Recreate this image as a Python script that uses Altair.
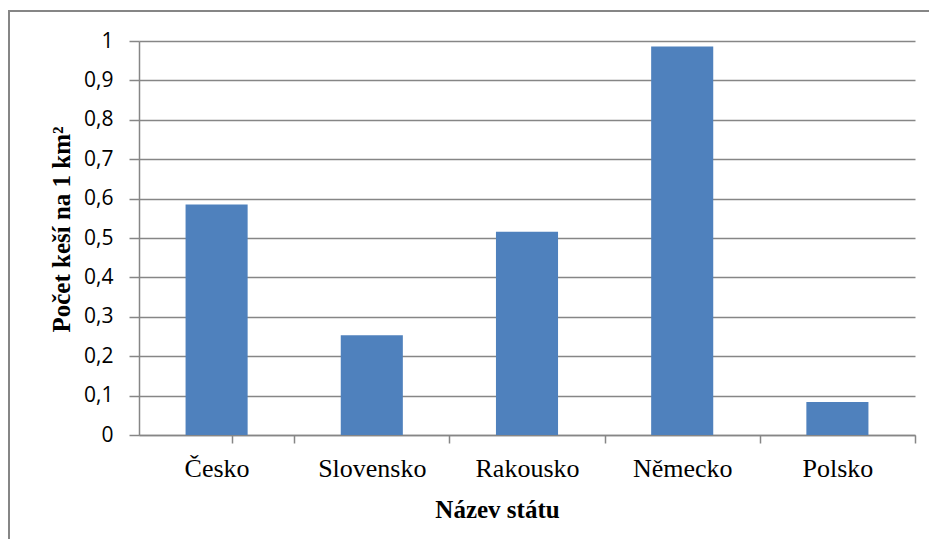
import altair as alt
import pandas as pd

# data
countries = ["Česko", "Slovensko", "Rakousko", "Německo", "Polsko"]
density = [0.585, 0.253, 0.516, 0.986, 0.084]
y_ticks = [0, 0.1, 0.2, 0.3, 0.4, 0.5, 0.6, 0.7, 0.8, 0.9, 1.0]

df = pd.DataFrame({"stat": countries, "hustota": density})
one = pd.DataFrame({"k": [0]})

GRAY = "#868686"
W, H = 776, 394
STEP = W / len(countries)

bars = alt.Chart(df).mark_bar(color="#4F81BD").encode(
    x=alt.X(
        "stat:N",
        sort=countries,
        scale=alt.Scale(paddingInner=0.6, paddingOuter=0.3),
        axis=alt.Axis(
            title="Název státu",
            labelAngle=0,
            labelFont="Liberation Serif",
            labelFontSize=26,
            labelColor="black",
            labelBaseline="alphabetic",
            labelPadding=33,
            tickSize=8,
            tickColor=GRAY,
            tickWidth=1.5,
            domainColor=GRAY,
            domainWidth=1.5,
            bandPosition=1,
            tickOffset=STEP * 0.3,
            labelOffset=-STEP * 0.3,
            tickExtra=True,
            titleFont="Liberation Serif",
            titleFontSize=25,
            titleFontWeight="bold",
            titleColor="black",
            titleX=358,
            titleY=82,
            titleBaseline="alphabetic",
        ),
    ),
    y=alt.Y(
        "hustota:Q",
        scale=alt.Scale(domain=[0, 1], nice=False),
        axis=alt.Axis(
            values=y_ticks,
            labelExpr="replace(format(datum.value, '.1~f'), '.', ',')",
            labelFont="Open Sans",
            labelFontSize=21,
            labelColor="black",
            labelPadding=16,
            tickSize=10,
            tickColor=GRAY,
            tickWidth=1.5,
            domainColor=GRAY,
            domainWidth=1.5,
            grid=True,
            gridColor=GRAY,
            gridWidth=1.5,
            title="Počet keší na 1 km²",
            titleFont="Liberation Serif",
            titleFontSize=25,
            titleFontWeight="bold",
            titleColor="black",
            titleAngle=270,
            titleX=-70,
            titleY=188,
            titleBaseline="alphabetic",
            titleAlign="center",
        ),
    ),
)

frame_left = alt.Chart(one).mark_rule(color=GRAY, strokeWidth=2).encode(
    x=alt.value(-130), y=alt.value(-30), y2=alt.value(H + 120)
)
frame_top = alt.Chart(one).mark_rule(color=GRAY, strokeWidth=2).encode(
    x=alt.value(-131), x2=alt.value(W + 20), y=alt.value(-30)
)

chart = (
    alt.layer(bars, frame_left, frame_top)
    .properties(
        width=W,
        height=H,
        autosize=alt.AutoSizeParams(type="none"),
        padding={"left": 131, "top": 33, "right": 14, "bottom": 104},
        background="white",
    )
    .configure_view(stroke=None)
)

chart.save("out.html", embed_options={"renderer": "svg", "actions": False})
